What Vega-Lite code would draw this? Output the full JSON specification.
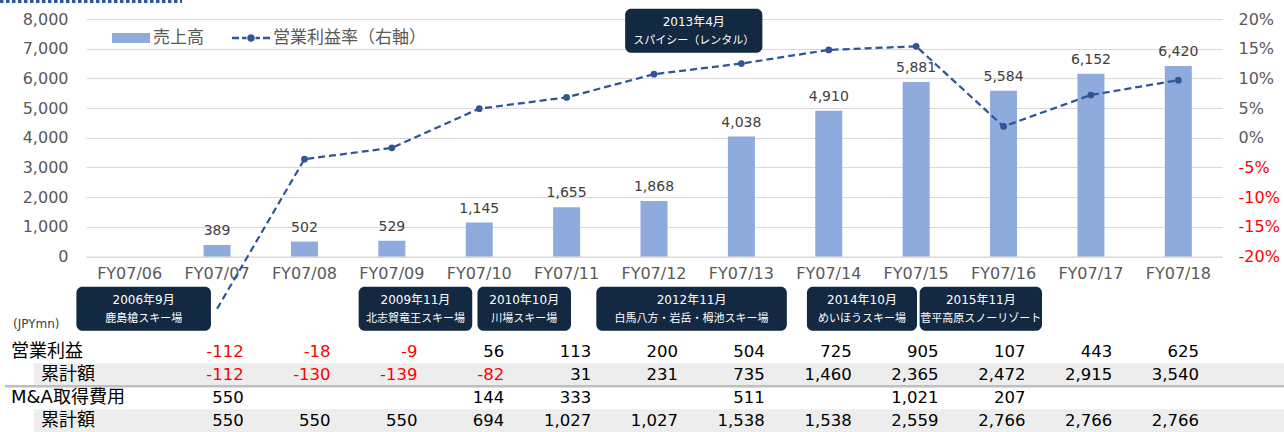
{
  "$schema": "https://vega.github.io/schema/vega-lite/v6.json",
  "width": 1136,
  "height": 237.5,
  "autosize": {"type": "none"},
  "padding": {"left": 86, "top": 19, "right": 62, "bottom": 175.5},
  "background": "white",
  "config": {
    "view": {"stroke": null},
    "font": "DejaVu Sans, Noto Sans CJK JP",
    "locale": {"number": {"decimal": ".", "thousands": ",", "grouping": [3], "currency": ["", ""], "minus": "-"}}
  },
  "datasets": {
    "fy": [
      {"year": "FY07/07", "sales": 389, "opm": -28.8, "op": -112, "opcum": -112, "ma": 550, "macum": 550},
      {"year": "FY07/08", "sales": 502, "opm": -3.6, "op": -18, "opcum": -130, "macum": 550},
      {"year": "FY07/09", "sales": 529, "opm": -1.7, "op": -9, "opcum": -139, "macum": 550},
      {"year": "FY07/10", "sales": 1145, "opm": 4.9, "op": 56, "opcum": -82, "ma": 144, "macum": 694},
      {"year": "FY07/11", "sales": 1655, "opm": 6.8, "op": 113, "opcum": 31, "ma": 333, "macum": 1027},
      {"year": "FY07/12", "sales": 1868, "opm": 10.7, "op": 200, "opcum": 231, "macum": 1027},
      {"year": "FY07/13", "sales": 4038, "opm": 12.5, "op": 504, "opcum": 735, "ma": 511, "macum": 1538},
      {"year": "FY07/14", "sales": 4910, "opm": 14.8, "op": 725, "opcum": 1460, "macum": 1538},
      {"year": "FY07/15", "sales": 5881, "opm": 15.4, "op": 905, "opcum": 2365, "ma": 1021, "macum": 2559},
      {"year": "FY07/16", "sales": 5584, "opm": 1.9, "op": 107, "opcum": 2472, "ma": 207, "macum": 2766},
      {"year": "FY07/17", "sales": 6152, "opm": 7.2, "op": 443, "opcum": 2915, "macum": 2766},
      {"year": "FY07/18", "sales": 6420, "opm": 9.7, "op": 625, "opcum": 3540, "macum": 2766}
    ],
    "items": [
      {"item": "op", "label": "営業利益", "level": "main"},
      {"item": "opcum", "label": "累計額", "level": "sub"},
      {"item": "ma", "label": "M&A取得費用", "level": "main"},
      {"item": "macum", "label": "累計額", "level": "sub"}
    ],
    "deals": [
      {"date": "2006年9月", "name": "鹿島槍スキー場", "level": "bottom", "from": -0.61, "to": 0.93},
      {"date": "2009年11月", "name": "北志賀竜王スキー場", "level": "bottom", "from": 2.62, "to": 3.92},
      {"date": "2010年10月", "name": "川場スキー場", "level": "bottom", "from": 3.98, "to": 5.05},
      {"date": "2012年11月", "name": "白馬八方・岩岳・栂池スキー場", "level": "bottom", "from": 5.34, "to": 7.52},
      {"date": "2013年4月", "name": "スパイシー（レンタル）", "level": "top", "from": 5.67, "to": 7.24},
      {"date": "2014年10月", "name": "めいほうスキー場", "level": "bottom", "from": 7.75, "to": 9.01},
      {"date": "2015年11月", "name": "菅平高原スノーリゾート", "level": "bottom", "from": 9.04, "to": 10.44}
    ]
  },
  "layer": [
    {
      "data": {"name": "fy"},
      "encoding": {
        "x": {"field": "year", "type": "nominal", "sort": null,
          "scale": {"type": "band", "domain": ["FY07/06","FY07/07","FY07/08","FY07/09","FY07/10","FY07/11","FY07/12","FY07/13","FY07/14","FY07/15","FY07/16","FY07/17","FY07/18"], "paddingInner": 0.691, "paddingOuter": 0.3455},
          "axis": {"title": null, "labelAngle": 0, "labelFontSize": 16, "labelColor": "#595959", "ticks": false, "tickSize": 0, "domainColor": "#D9D9D9", "labelPadding": 9}},
        "y": {"field": "sales", "type": "quantitative",
          "scale": {"domain": [0, 8000], "nice": false},
          "axis": {"title": null, "values": [0,1000,2000,3000,4000,5000,6000,7000,8000], "format": ",d", "labelOverlap": false, "labelFontSize": 16, "labelColor": "#595959", "gridColor": "#D9D9D9", "domain": false, "ticks": false, "tickSize": 0, "labelPadding": 18}}
      },
      "layer": [
        {
          "mark": {"type": "bar"},
          "encoding": {
            "color": {"datum": "売上高", "type": "nominal",
              "scale": {"domain": ["売上高", "営業利益率（右軸）"], "range": ["#8FAADC", "#2F5597"]},
              "legend": {
                "title": null, "orient": "none", "legendX": 26, "legendY": 0, "direction": "horizontal", "columns": 2, "columnPadding": 28,
                "symbolSize": 1444, "labelFontSize": 17, "labelColor": "#595959", "labelOffset": 3, "symbolStrokeWidth": 0,
                "encode": {"symbols": {"update": {
                  "shape": {"signal": "datum.value === '売上高' ? 'M-1,-0.263H1V0.263H-1Z' : 'M-1,-0.06H-0.63V0.06H-1ZM-0.47,-0.06H-0.24V0.06H-0.47ZM0.2,0A0.2,0.2,0,1,1,-0.2,0A0.2,0.2,0,1,1,0.2,0ZM0.24,-0.06H0.47V0.06H0.24ZM0.63,-0.06H1V0.06H0.63Z'"},
                  "fill": {"signal": "datum.value === '売上高' ? '#8FAADC' : '#2F5597'"},
                  "opacity": {"value": 1},
                  "strokeWidth": {"value": 0}
                }}}
              }}
          }
        },
        {
          "mark": {"type": "text", "dy": -10, "baseline": "alphabetic", "fontSize": 14, "color": "#404040"},
          "encoding": {
            "text": {"field": "sales", "type": "quantitative", "format": ",d"}
          }
        }
      ]
    },
    {
      "data": {"name": "fy"},
      "transform": [{"filter": "isValid(datum.opm)"}],
      "encoding": {
        "x": {"field": "year", "type": "nominal", "sort": null,
          "scale": {"type": "point", "domain": ["FY07/06","FY07/07","FY07/08","FY07/09","FY07/10","FY07/11","FY07/12","FY07/13","FY07/14","FY07/15","FY07/16","FY07/17","FY07/18"], "padding": 0.5},
          "axis": null},
        "y": {"field": "opm", "type": "quantitative",
          "scale": {"domain": [-20, 20], "nice": false, "zero": false},
          "axis": {"orient": "right", "title": null, "values": [-20,-15,-10,-5,0,5,10,15,20], "labelExpr": "datum.value + '%'", "labelOverlap": false, "labelFontSize": 16,
            "labelColor": {"condition": {"test": "datum.value < 0", "value": "#FF0000"}, "value": "#595959"},
            "grid": false, "domain": false, "ticks": false, "tickSize": 0, "labelPadding": 16}},
        "color": {"datum": "営業利益率（右軸）", "type": "nominal"}
      },
      "layer": [
        {"mark": {"type": "line", "strokeDash": [7, 4], "strokeWidth": 2.25}},
        {"transform": [{"filter": "datum.opm >= -20"}], "mark": {"type": "point", "filled": true, "size": 45, "opacity": 1}}
      ]
    },
    {
      "data": {"name": "fy"},
      "encoding": {
        "x": {"scale": {"type": "point", "domain": ["FY07/06","FY07/07","FY07/08","FY07/09","FY07/10","FY07/11","FY07/12","FY07/13","FY07/14","FY07/15","FY07/16","FY07/17","FY07/18"], "padding": 0.54}, "axis": null},
        "y": {"scale": {"type": "band", "domain": ["op","opcum","ma","macum"], "range": [321.2, 413.2], "paddingInner": 0, "paddingOuter": 0}, "axis": null}
      },
      "layer": [
        {
          "data": {"name": "items"},
          "transform": [{"filter": "datum.level === 'sub'"}],
          "mark": {"type": "rule", "color": "#EDEDED", "strokeWidth": 23, "xOffset": -98.9, "x2Offset": 108.9},
          "encoding": {
            "x": {"datum": "FY07/06", "type": "nominal"},
            "x2": {"datum": "FY07/18"},
            "y": {"field": "item", "type": "nominal"}
          }
        },
        {
          "data": {"values": [{}]},
          "mark": {"type": "rule", "color": "#BFBFBF", "strokeWidth": 2.5, "xOffset": -127.9, "x2Offset": 108.9},
          "encoding": {
            "x": {"datum": "FY07/06", "type": "nominal"},
            "x2": {"datum": "FY07/18"},
            "y": {"datum": "ma", "type": "nominal", "bandPosition": 0}
          }
        },
        {
          "transform": [{"fold": ["op", "opcum", "ma", "macum"], "as": ["item", "v"]}, {"filter": "isValid(datum.v)"}],
          "mark": {"type": "text", "align": "right", "baseline": "middle", "dx": 24, "fontSize": 16.5},
          "encoding": {
            "x": {"field": "year", "type": "nominal", "sort": null},
            "y": {"field": "item", "type": "nominal"},
            "text": {"field": "v", "type": "quantitative", "format": ",d"},
            "color": {"condition": {"test": "datum.v < 0", "value": "#FF0000"}, "value": "#000000"}
          }
        },
        {
          "data": {"name": "items"},
          "transform": [{"filter": "datum.level === 'main'"}],
          "mark": {"type": "text", "align": "left", "baseline": "middle", "dx": -121.9, "fontSize": 18, "color": "#000000"},
          "encoding": {
            "x": {"datum": "FY07/06", "type": "nominal"},
            "y": {"field": "item", "type": "nominal"},
            "text": {"field": "label"}
          }
        },
        {
          "data": {"name": "items"},
          "transform": [{"filter": "datum.level === 'sub'"}],
          "mark": {"type": "text", "align": "left", "baseline": "middle", "dx": -91.9, "fontSize": 18, "color": "#000000"},
          "encoding": {
            "x": {"datum": "FY07/06", "type": "nominal"},
            "y": {"field": "item", "type": "nominal"},
            "text": {"field": "label"}
          }
        },
        {
          "data": {"values": [{"t": "(JPYmn)"}]},
          "mark": {"type": "text", "align": "left", "baseline": "middle", "dx": -119.9, "dy": -28, "fontSize": 12, "color": "#404040"},
          "encoding": {
            "x": {"datum": "FY07/06", "type": "nominal"},
            "y": {"datum": "op", "type": "nominal"},
            "text": {"field": "t"}
          }
        }
      ]
    },
    {
      "data": {"name": "deals"},
      "transform": [{"calculate": "(datum.from + datum.to) / 2", "as": "mid"}],
      "encoding": {
        "y": {"field": "level", "type": "nominal", "scale": {"type": "band", "domain": ["top", "bottom"], "range": [-10.3, 311.7], "paddingInner": 0.8417, "paddingOuter": 0}, "axis": null}
      },
      "layer": [
        {
          "mark": {"type": "rect", "color": "#132841", "cornerRadius": 6},
          "encoding": {
            "x": {"field": "from", "type": "quantitative", "scale": {"domain": [-0.5, 12.5], "nice": false, "zero": false}, "axis": null},
            "x2": {"field": "to"}
          }
        },
        {
          "mark": {"type": "text", "color": "#FFFFFF", "fontSize": 12, "baseline": "middle", "dy": -9},
          "encoding": {"x": {"field": "mid", "type": "quantitative"}, "text": {"field": "date"}}
        },
        {
          "mark": {"type": "text", "color": "#FFFFFF", "fontSize": 11, "baseline": "middle", "dy": 10},
          "encoding": {"x": {"field": "mid", "type": "quantitative"}, "text": {"field": "name"}}
        },
        {
          "data": {"values": [{}]},
          "mark": {"type": "rule", "strokeDash": [3.5, 2.5], "strokeWidth": 3, "color": "#2F5597", "xOffset": -86, "x2Offset": 96, "yOffset": -7.2, "y2Offset": -7.2},
          "encoding": {
            "x": {"datum": -0.5, "type": "quantitative"},
            "x2": {"datum": -0.5},
            "y": {"datum": "top", "type": "nominal", "bandPosition": 0}
          }
        }
      ]
    }
  ],
  "resolve": {"scale": {"x": "independent", "y": "independent"}}
}
